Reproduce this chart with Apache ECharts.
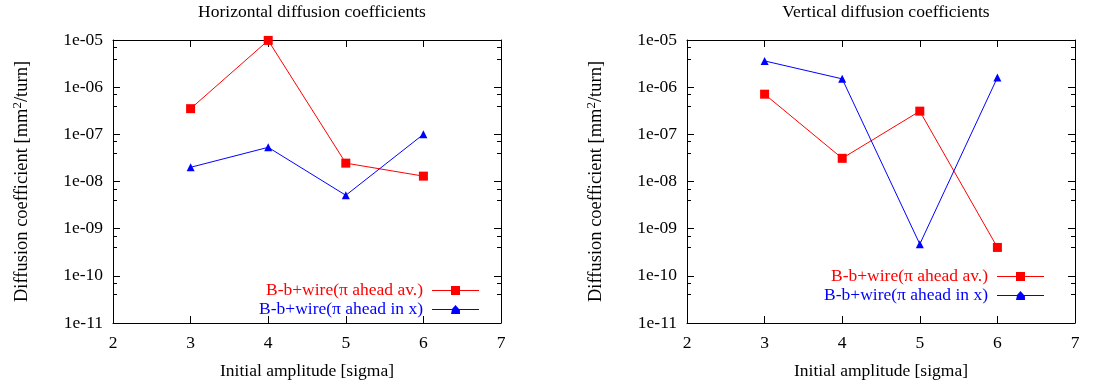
<!DOCTYPE html>
<html>
<head>
<meta charset="utf-8">
<script src="https://cdn.jsdelivr.net/npm/echarts@6/dist/echarts.min.js"></script>
<style>
  html, body { margin: 0; padding: 0; background: #fff; }
  #chart { width: 1120px; height: 387px; }
</style>
</head>
<body>
<div id="chart"></div>
<script>
// amplitudes in sigma
const amplitudes = [3, 4, 5, 6];
// horizontal panel
const horizAv = [3.5e-7, 9.8e-6, 2.45e-8, 1.3e-8];
const horizX = [2.0e-8, 5.3e-8, 5.1e-9, 1.0e-7];
// vertical panel
const vertAv = [7.1e-7, 3.1e-8, 3.1e-7, 4.0e-10];
const vertX = [3.6e-6, 1.5e-6, 4.7e-10, 1.6e-6];

const nameAv = 'B-b+wire(\u03c0 ahead av.)';
const nameX = 'B-b+wire(\u03c0 ahead in x)';
const titles = ['Horizontal diffusion coefficients', 'Vertical diffusion coefficients'];

const FONT = 'Liberation Serif';
const FS = 17.5;
const RED = '#ff0000';
const BLUE = '#0000ff';

// legend samples: a thin line with the marker in the middle (47x9 box)
const ICON_SQUARE = 'path://M0,4H19V0H28V4H47V5H28V9H19V5H0Z';
const ICON_TRIANGLE = 'path://M0,4H20L23.5,0L27,4H47V5H27.9L28,9H19L19.9,5H0Z';

const chart = echarts.init(document.getElementById('chart'));

const pair = (xs, ys) => xs.map((x, i) => [x, ys[i]]);

const expLabel = v => {
  const e = Math.round(Math.log10(v));
  const a = Math.abs(e);
  return '1e' + (e < 0 ? '-' : '+') + (a < 10 ? '0' + a : a);
};

const lineStyle = { color: '#000', width: 1 };

function xAxes(gi) {
  const base = {
    gridIndex: gi, type: 'value', min: 2, max: 7, interval: 1,
    splitLine: { show: false },
    axisLine: { show: true, onZero: false, lineStyle },
    axisTick: { show: true, inside: true, length: 7, lineStyle }
  };
  return [
    Object.assign({}, base, {
      position: 'bottom',
      axisLabel: { fontFamily: FONT, fontSize: FS, color: '#000', margin: 11 },
      name: 'Initial amplitude [sigma]', nameLocation: 'middle', nameGap: 39,
      nameTextStyle: { fontFamily: FONT, fontSize: FS, color: '#000' }
    }),
    Object.assign({}, base, { position: 'top', axisLabel: { show: false } })
  ];
}

function yAxes(gi) {
  const base = {
    gridIndex: gi, type: 'log', logBase: 10, min: 1e-11, max: 1e-5, interval: 1,
    splitLine: { show: false },
    axisLine: { show: true, onZero: false, lineStyle },
    axisTick: { show: true, inside: true, length: 7, lineStyle },
    minorTick: { show: true, splitNumber: 3, length: 4, lineStyle }
  };
  return [
    Object.assign({}, base, {
      position: 'left',
      axisLabel: { fontFamily: FONT, fontSize: FS, color: '#000', margin: 10, formatter: expLabel },
      name: '{a|Diffusion coefficient [mm}{s|2}{a|/turn]}', nameLocation: 'middle', nameGap: 80,
      nameRotate: 90,
      nameTextStyle: {
        rich: {
          a: { fontFamily: FONT, fontSize: 18.5, color: '#000', lineHeight: 22 },
          s: { fontFamily: FONT, fontSize: 13, color: '#000', lineHeight: 22, verticalAlign: 'top' }
        }
      }
    }),
    Object.assign({}, base, { position: 'right', axisLabel: { show: false } })
  ];
}

function series(gi, av, inx) {
  return [
    {
      name: nameAv, type: 'line', xAxisIndex: gi * 2, yAxisIndex: gi * 2,
      data: pair(amplitudes, av), symbol: 'rect', symbolSize: 9,
      lineStyle: { color: RED, width: 1 }, itemStyle: { color: RED }
    },
    {
      name: nameX, type: 'line', xAxisIndex: gi * 2, yAxisIndex: gi * 2,
      data: pair(amplitudes, inx), symbol: 'triangle', symbolSize: 8,
      lineStyle: { color: BLUE, width: 1 }, itemStyle: { color: BLUE }
    }
  ];
}

function legend(right, top) {
  return {
    orient: 'vertical', align: 'right', right, top,
    itemWidth: 47, itemHeight: 9, itemGap: 0,
    selectedMode: false,
    itemStyle: { borderWidth: 0 },
    textStyle: { fontFamily: FONT, fontSize: FS, lineHeight: 19, padding: [0, 4, 0, 0] },
    data: [
      { name: nameAv, icon: ICON_SQUARE, textStyle: { color: RED }, itemStyle: { color: RED, borderWidth: 0 } },
      { name: nameX, icon: ICON_TRIANGLE, textStyle: { color: BLUE }, itemStyle: { color: BLUE, borderWidth: 0 } }
    ]
  };
}

const titleStyle = { fontFamily: FONT, fontSize: FS, fontWeight: 'normal', color: '#000' };

chart.setOption({
  animation: false,
  title: [
    { text: titles[0], left: 307, top: -2, textAlign: 'center', textStyle: titleStyle },
    { text: titles[1], left: 881, top: -2, textAlign: 'center', textStyle: titleStyle }
  ],
  grid: [
    { left: 113, right: 619, top: 40, bottom: 64 },
    { left: 687, right: 45, top: 40, bottom: 64 }
  ],
  legend: [legend(636, 276), legend(71, 262)],
  xAxis: xAxes(0).concat(xAxes(1)),
  yAxis: yAxes(0).concat(yAxes(1)),
  series: series(0, horizAv, horizX).concat(series(1, vertAv, vertX))
});
</script>
</body>
</html>
